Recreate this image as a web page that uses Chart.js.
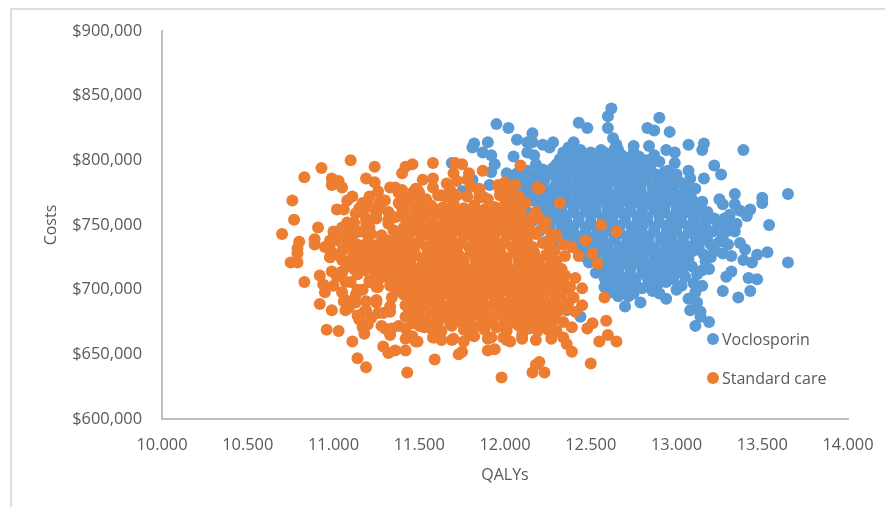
<!DOCTYPE html>
<html>
<head>
<meta charset="utf-8">
<script src="https://cdn.jsdelivr.net/npm/chart.js@4"></script>
<style>
  html, body { margin: 0; background: #fff; }
  #wrap { position: relative; width: 885px; height: 507px; overflow: hidden; }
  #frame { position: absolute; left: 10px; top: 8px; width: 900px; height: 600px; border: 2px solid #dedede; box-sizing: border-box; }
  .key { position: absolute; left: 707px; font: 16px "Open Sans", sans-serif; color: #595959; line-height: 20px; white-space: nowrap; padding-left: 15px; }
  .key i { position: absolute; left: 0; top: 4px; width: 12px; height: 12px; border-radius: 50%; }
</style>
</head>
<body>
<div id="wrap">
  <div id="frame"></div>
  <canvas id="chart" width="885" height="507"></canvas>
  <div class="key" style="top:329px"><i style="background:#5b9bd5"></i>Voclosporin</div>
  <div class="key" style="top:368px"><i style="background:#ed7d31"></i>Standard care</div>
</div>
<script>
const seriesNames = ['Voclosporin', 'Standard care'];
const costTicks = [600000, 650000, 700000, 750000, 800000, 850000, 900000];
const qalyTicks = [10, 10.5, 11, 11.5, 12, 12.5, 13, 13.5, 14];

// [QALYs, costs in $000]
const voclosporinPoints = [
  [12.62,840],[12.60,834],[12.60,825],[12.43,829],[12.48,825],[12.90,833],[12.83,825],[12.87,823],[12.96,822],
  [12.63,817],[12.65,812],[12.64,809],[12.75,811],[12.75,806],[12.76,798],[12.84,811],[12.87,804],[12.83,794],
  [12.94,808],[12.99,806],[12.99,798],[13.07,812],[13.16,813],[13.15,808],[13.39,808],[13.22,796],[13.26,789],
  [13.07,792],[13.16,786],[13.34,774],[13.65,774],[13.50,771],[13.50,767],[13.25,770],[13.27,766],[13.34,766],
  [13.43,762],[13.37,761],[13.41,757],[13.31,758],[13.35,751],[13.31,746],[13.24,752],[13.54,750],[13.65,721],
  [13.53,729],[13.47,727],[13.44,721],[13.42,709],[13.47,708],[13.43,699],[13.36,694],[13.27,699],[13.11,672],
  [13.19,675],[12.70,687],[12.79,690],[13.37,736],[13.40,731],[13.39,723],[13.32,726],[13.27,728],[13.25,737],
  [13.32,714],[13.29,710],[13.19,716],[13.15,703],[13.00,700],[13.11,698],[13.07,693],[13.12,690],[13.08,684],
  [13.14,683],[13.14,679],[12.94,693],[12.86,699],[12.89,704],[12.80,701],[12.72,702],[12.58,702],[12.65,705],
  [11.95,828],[12.02,825],[12.07,816],[12.16,821],[12.13,814],[12.16,814],[11.82,813],[11.81,810],[11.90,814],
  [11.87,806],[11.92,804],[11.94,797],[11.92,791],[11.69,798],[12.13,806],[12.17,804],[12.18,797],[12.01,790],
  [12.07,790],[12.13,792],[11.91,781],[11.81,785],[11.75,776],[11.62,762],[12.28,814],[12.26,810],[12.40,814],
  [12.37,810],[12.05,803],[12.22,812],[12.44,679],[12.36,684],[12.50,806],[12.56,808],[12.46,803],
  [12.34,806],[12.40,805],[12.44,808],[12.52,804],[12.58,806],[12.62,805],[12.68,804],[12.72,802],[12.66,808],[12.78,803],[12.84,800],[12.95,792],[12.30,797],[12.26,792],
  [12.02,785],[12.08,785],[12.12,785],[12.04,778],[12.10,780],[12.14,775],[12.06,770],
  [13.20,735],[13.21,745],[13.22,755],[13.20,725],[13.26,745],[13.28,755],[13.30,735],[13.34,745],[13.30,752],[13.27,741],[13.22,730],[13.17,722],[13.15,715],[13.12,712],[13.10,705],
  [12.62,698],[12.66,695],[12.72,695],[12.90,697],
  [12.32,801],[12.38,800],[12.44,799],[12.51,800],[12.57,802],[12.63,800],[12.69,799],[12.82,800],[12.90,799],
  [12.35,797],[12.41,796],[12.47,797],[12.54,796],[12.60,797],[12.66,796],[12.72,797],[12.78,796],[12.85,797],
  [12.22,793],[12.28,794],[12.34,792],[12.41,793],[12.47,792],[12.53,794],[12.60,792],[12.66,793],[12.72,792],[12.78,790],[12.85,792],[12.93,791],[13.00,789],
  [12.19,789],[12.25,789],[12.31,788],[12.38,789],[12.44,788],[12.50,789],[12.57,788],[12.63,789],[12.69,788],[12.75,789],[12.82,788],[12.88,789],[12.96,788],
  [12.16,785],[12.23,785],[12.30,786],[12.36,784],[12.43,785],[12.50,784],[12.56,786],[12.63,784],[12.69,785],[12.76,784],[12.82,785],[12.89,784],[12.95,785],[13.02,783],[13.08,786],
  [12.16,781],[12.22,781],[12.29,780],[12.35,781],[12.41,780],[12.48,781],[12.54,780],[12.60,781],[12.67,780],[12.73,781],[12.79,780],[12.86,781],[12.92,780],[12.99,781],[13.05,780],
  [12.12,777],[12.19,777],[12.26,776],[12.32,778],[12.39,776],[12.46,777],[12.52,776],[12.59,778],[12.66,776],[12.72,777],[12.79,776],[12.86,778],[12.92,776],[12.98,777],[13.05,776],[13.11,778],
  [12.15,773],[12.22,773],[12.28,772],[12.35,773],[12.42,772],[12.48,773],[12.55,772],[12.62,773],[12.68,772],[12.75,773],[12.81,772],[12.88,773],[12.94,772],[13.01,773],[13.08,772],
  [12.09,769],[12.16,769],[12.23,768],[12.30,770],[12.36,768],[12.43,769],[12.50,768],[12.56,770],[12.63,768],[12.70,769],[12.76,768],[12.83,770],[12.89,768],[12.96,769],[13.03,768],[13.09,770],[13.15,768],
  [12.20,765],[12.26,764],[12.33,765],[12.40,764],[12.46,765],[12.53,764],[12.60,765],[12.66,764],[12.73,765],[12.80,764],[12.86,765],[12.93,764],[13.00,765],[13.06,764],[13.12,765],
  [12.06,761],[12.13,760],[12.20,761],[12.27,760],[12.33,762],[12.40,760],[12.47,761],[12.53,760],[12.60,762],[12.67,760],[12.73,761],[12.80,760],[12.87,762],[12.93,760],[13.00,761],[13.07,760],[13.13,762],[13.18,760],
  [12.23,757],[12.30,756],[12.36,757],[12.43,756],[12.50,757],[12.57,756],[12.63,757],[12.70,756],[12.77,757],[12.83,756],[12.90,757],[12.97,756],[13.03,757],[13.10,756],[13.15,757],
  [12.09,752],[12.16,753],[12.23,752],[12.30,754],[12.36,752],[12.43,753],[12.50,752],[12.57,754],[12.63,752],[12.70,753],[12.77,752],[12.83,754],[12.90,752],[12.97,753],[13.03,752],[13.10,754],[13.17,752],
  [12.26,749],[12.33,748],[12.40,749],[12.47,748],[12.53,749],[12.60,748],[12.67,749],[12.74,748],[12.80,749],[12.87,748],[12.94,749],[13.00,748],[13.07,749],[13.14,748],
  [12.20,745],[12.27,744],[12.34,746],[12.40,744],[12.47,745],[12.54,744],[12.60,746],[12.67,744],[12.74,745],[12.80,744],[12.87,746],[12.94,744],[13.00,745],[13.07,744],[13.13,746],[13.19,744],
  [12.31,741],[12.37,740],[12.44,741],[12.51,740],[12.57,741],[12.64,740],[12.71,741],[12.77,740],[12.84,741],[12.91,740],[12.97,741],[13.04,740],[13.11,741],[13.16,740],
  [12.24,737],[12.31,736],[12.38,738],[12.44,736],[12.51,737],[12.58,736],[12.64,738],[12.71,736],[12.78,737],[12.84,736],[12.91,738],[12.98,736],[13.04,737],[13.11,736],[13.18,738],
  [12.40,733],[12.47,732],[12.54,733],[12.60,732],[12.67,733],[12.74,732],[12.80,733],[12.87,732],[12.94,733],[13.00,732],[13.07,733],[13.13,732],
  [12.43,729],[12.50,728],[12.57,730],[12.63,728],[12.70,729],[12.77,728],[12.83,730],[12.90,728],[12.97,729],[13.03,728],[13.10,730],[13.16,727],
  [12.47,725],[12.53,724],[12.60,725],[12.67,724],[12.73,725],[12.80,724],[12.87,725],[12.93,724],[13.00,725],[13.07,724],
  [12.49,721],[12.56,720],[12.63,722],[12.69,720],[12.76,721],[12.83,720],[12.89,722],[12.96,720],[13.02,721],[13.09,718],
  [12.56,717],[12.60,716],[12.66,717],[12.73,716],[12.80,717],[12.86,716],[12.93,717],[12.99,716],[13.04,717],
  [12.53,713],[12.60,712],[12.66,714],[12.73,712],[12.80,713],[12.86,712],[12.92,714],[12.99,712],[13.05,710],
  [12.58,709],[12.63,708],[12.70,709],[12.76,708],[12.83,709],[12.90,708],[12.96,709],
  [12.60,705],[12.68,698],[12.75,697],[12.84,706],[12.94,706],[12.98,708],[13.03,703],[12.68,704],[12.76,705]
];

const standardPoints = [
  [11.10,800],[10.93,794],[10.83,787],[11.24,795],[11.46,797],[11.42,795],[11.40,790],[11.58,798],[11.71,798],[11.75,797],
  [11.70,790],[11.79,790],[11.87,792],[12.09,796],[10.99,786],[11.03,784],[10.99,781],[11.05,779],[11.19,786],[11.24,783],
  [10.76,769],[10.77,754],[10.70,743],[10.91,748],[10.80,737],[10.79,732],[10.79,728],[10.75,721],[10.79,721],[10.89,739],
  [10.89,735],[10.83,706],[10.92,689],[10.99,684],[10.96,669],[11.03,668],[11.11,660],[11.14,647],[11.19,640],[11.43,636],
  [11.59,646],[11.29,656],[11.32,651],[11.36,653],[11.42,653],[11.73,650],[11.75,652],[11.98,632],[11.90,653],[11.94,654],
  [12.16,636],[12.18,642],[12.20,644],[12.23,636],[12.20,778],[12.32,767],[12.56,750],[12.65,745],[12.47,738],[12.51,728],
  [12.54,720],[12.58,694],[12.59,676],[12.48,670],[12.51,674],[12.60,665],[12.65,660],[12.55,660],[12.34,675],[12.39,671],
  [12.34,663],[12.36,658],[12.39,652],[12.50,643],[12.18,661],[12.19,668],[12.27,743],[12.18,743],[12.34,735],[12.39,733],
  [12.43,726],[12.35,726],[12.35,711],[12.41,709],[12.34,706],[12.45,701],[12.40,694],[12.45,688],[12.41,683],[12.18,760],[12.21,754],
  [11.02,762],[11.06,762],[11.08,769],[11.11,772],[11.00,745],[11.03,739],[11.07,743],[10.98,731],[11.03,727],[10.98,725],
  [11.12,752],[11.17,760],[11.17,767],[11.21,772],[11.26,776],[11.33,779],[11.38,775],[11.48,778],[11.54,770],[11.61,773],
  [11.66,782],[11.72,784],[11.80,780],[11.85,776],[11.96,781],[12.02,778],[11.97,773],[12.08,772],[11.90,770],
  [11.15,763],[11.13,759],[11.08,752],[11.05,748],[11.10,746],[11.19,755],[11.21,748],[11.19,744],[11.29,769],[11.27,763],[11.25,759],[11.32,754],[11.36,756],[11.39,775],[11.46,775],[11.50,775],[11.40,763],[11.49,764],
  [10.98,738],[10.95,733],[10.98,725],[11.02,738],[11.08,733],[11.05,723],[11.11,725],[11.10,741],[11.14,731],[11.14,714],[11.21,723],[11.29,725],[10.99,714],[11.05,713],[10.92,711],[10.94,704],[10.95,698],[11.10,706],[11.14,700],[11.21,706],[11.25,702],[11.30,710],
  [11.07,692],[11.13,690],[11.07,684],[11.18,683],[11.15,677],[11.20,673],[11.25,690],[11.29,682],[11.33,683],[11.18,666],[11.30,670],[11.34,670],[11.33,665],
  [11.43,663],[11.49,660],[11.46,674],[11.53,671],[11.59,663],[11.69,661],[11.80,665],[11.92,663],[12.01,661],[12.10,665],
  [11.36,779],[11.40,777],[11.49,777],[11.58,786],[11.52,785],[11.58,779],[11.63,773],[11.68,777],[11.78,785],[11.85,778],[12.00,783],[12.06,781],[11.97,777],[12.02,772],[11.87,772],[12.19,779],
  [12.30,722],[12.33,716],[12.36,700],[12.31,702],[12.32,684],[12.28,676],[12.25,669],[12.22,674],[12.27,662],[12.30,668],[12.37,690],[12.38,702],[12.22,748],[12.26,738],[12.30,742],[12.24,752],
  [11.43,773],[11.49,772],[11.66,772],[11.72,773],[11.78,772],[11.85,771],[12.02,772],
  [11.22,764],[11.27,768],[11.32,760],[11.38,767],[11.44,768],[11.50,764],[11.57,765],[11.64,764],[11.70,767],[11.76,763],[11.82,765],[11.88,762],[11.94,764],[12.00,766],[12.06,764],[12.12,767],
  [11.30,769],[11.41,762],[11.47,760],[11.54,760],[11.61,761],[11.67,760],[11.73,760],[11.79,760],[11.85,761],[11.91,760],[11.97,761],[12.03,760],[12.09,761],
  [11.13,744],[11.19,752],[11.25,755],[11.32,751],[11.41,756],[11.47,755],[11.53,757],[11.60,758],[11.66,755],[11.72,757],[11.78,755],[11.85,757],[11.91,755],[11.97,757],[12.03,755],[12.09,757],[12.15,755],
  [11.44,751],[11.50,750],[11.57,752],[11.63,750],[11.69,752],[11.75,750],[11.82,752],[11.88,750],[11.94,752],[12.00,750],[12.06,752],[12.12,750],
  [11.16,745],[11.22,743],[11.28,742],[11.35,746],[11.41,748],[11.47,746],[11.54,748],[11.60,746],[11.66,748],[11.72,746],[11.79,748],[11.85,746],[11.91,748],[11.97,746],[12.04,748],[12.10,746],[12.14,749],
  [11.38,742],[11.44,743],[11.51,742],[11.57,743],[11.63,742],[11.69,743],[11.76,742],[11.82,743],[11.88,742],[11.94,743],[12.01,742],[12.07,743],[12.13,742],
  [11.09,736],[11.14,735],[11.20,737],[11.26,735],[11.32,738],[11.38,737],[11.44,739],[11.50,737],[11.57,739],[11.63,737],[11.69,739],[11.75,737],[11.82,739],[11.88,737],[11.94,739],[12.00,737],[12.07,739],[12.13,737],[12.22,736],
  [11.17,733],[11.23,732],[11.29,733],[11.35,732],[11.41,733],[11.47,732],[11.54,733],[11.60,732],[11.66,733],[11.72,732],[11.79,733],[11.85,732],[11.91,733],[11.97,732],[12.04,733],[12.10,732],[12.16,733],[12.26,733],
  [11.05,730],[11.12,727],[11.18,729],[11.24,727],[11.30,729],[11.36,727],[11.42,729],[11.48,727],[11.55,729],[11.61,727],[11.67,729],[11.73,727],[11.80,729],[11.86,727],[11.92,729],[11.98,727],[12.05,729],[11.11,733],[12.11,727],[12.17,729],[12.24,727],[12.29,730],
  [11.15,724],[11.21,723],[11.27,724],[11.33,723],[11.39,724],[11.45,723],[11.52,724],[11.58,723],[11.64,724],[11.70,723],[11.76,724],[11.83,723],[11.89,724],[11.95,723],[12.01,724],[12.08,723],[12.14,724],[12.20,723],[12.27,725],
  [11.09,718],[11.15,721],[11.21,719],[11.27,721],[11.33,719],[11.39,721],[11.45,719],[11.52,721],[11.58,719],[11.64,721],[11.70,719],[11.76,721],[11.83,719],[11.89,721],[11.95,719],[12.01,721],[12.08,719],[12.14,721],[12.20,719],[12.27,721],
  [11.05,714],[11.12,716],[11.18,715],[11.24,714],[11.30,716],[11.36,716],[11.42,715],[11.48,716],[11.55,715],[11.61,716],[11.67,715],[11.73,716],[11.80,715],[11.86,716],[11.92,715],[11.98,716],[12.05,715],[12.11,716],[12.17,715],[12.23,716],[12.30,715],
  [11.02,710],[11.07,706],[11.14,712],[11.21,707],[11.27,709],[11.33,711],[11.39,713],[11.45,711],[11.52,713],[11.58,711],[11.64,713],[11.70,711],[11.76,713],[11.83,711],[11.89,713],[11.95,711],[12.01,713],[12.08,711],[12.14,713],[12.20,711],[12.26,713],[12.30,708],
  [11.36,707],[11.42,708],[11.49,707],[11.55,708],[11.61,707],[11.67,708],[11.73,707],[11.80,708],[11.86,707],[11.92,708],[11.98,707],[12.05,708],[12.11,707],[12.17,708],[12.23,707],
  [11.00,703],[11.05,698],[11.17,700],[11.26,702],[11.33,703],[11.40,704],[11.46,703],[11.52,705],[11.58,703],[11.64,705],[11.70,703],[11.76,705],[11.83,703],[11.89,705],[11.95,703],[12.01,705],[12.08,703],[12.14,705],[12.20,703],[12.27,705],
  [11.37,699],[11.43,700],[11.49,699],[11.55,700],[11.61,699],[11.67,700],[11.73,699],[11.80,700],[11.86,699],[11.92,700],[11.98,699],[12.05,700],[12.11,699],[12.17,700],[12.23,699],[12.31,700],
  [11.06,691],[11.09,686],[11.13,696],[11.19,691],[11.25,692],[11.34,694],[11.41,696],[11.47,695],[11.53,697],[11.59,695],[11.65,697],[11.72,695],[11.78,697],[11.84,695],[11.90,697],[11.96,695],[12.03,697],[12.09,695],[12.15,697],[12.22,695],[12.29,697],[12.33,694],
  [11.44,691],[11.50,690],[11.56,691],[11.62,690],[11.69,691],[11.75,690],[11.81,691],[11.87,690],[11.94,691],[12.00,690],[12.06,691],[12.13,690],[12.19,691],[12.26,690],[12.32,691],
  [11.14,680],[11.19,684],[11.26,682],[11.33,687],[11.42,688],[11.48,686],[11.54,688],[11.60,686],[11.67,688],[11.73,686],[11.79,688],[11.85,686],[11.92,688],[11.98,686],[12.04,688],[12.10,686],[12.17,688],[12.24,686],[12.30,688],[12.35,685],
  [11.44,683],[11.50,682],[11.57,683],[11.63,682],[11.69,683],[11.76,682],[11.82,683],[11.88,682],[11.95,683],[12.01,682],[12.07,683],[12.14,682],[12.20,683],[12.27,682],
  [11.17,671],[11.22,678],[11.28,672],[11.33,668],[11.38,672],[11.42,679],[11.47,680],[11.53,678],[11.60,680],[11.66,679],[11.72,680],[11.79,678],[11.85,680],[11.91,678],[11.98,680],[12.04,678],[12.10,680],[12.17,678],[12.24,680],[12.29,679],
  [11.49,675],[11.55,674],[11.61,675],[11.68,674],[11.74,675],[11.80,674],[11.87,675],[11.93,674],[12.00,675],[12.06,674],[12.12,675],[12.19,674],
  [11.42,670],[11.46,664],[11.50,672],[11.57,670],[11.63,668],[11.69,672],[11.76,669],[11.82,671],[11.88,669],[11.95,671],[12.01,668],[12.08,672],[12.14,670],
  [11.42,662],[11.48,660],[11.58,663],[11.63,661],[11.70,662],[11.76,660],[11.82,664],[11.90,662],[11.99,663],[12.03,660],[12.10,662]
];

const chart = new Chart(document.getElementById('chart'), {
  type: 'scatter',
  data: {
    datasets: [
      // costs are listed in thousands
      { label: seriesNames[0], data: voclosporinPoints.map(p => ({ x: p[0], y: p[1] * 1000 })), backgroundColor: '#5b9bd5', borderColor: '#5b9bd5', order: 2 },
      { label: seriesNames[1], data: standardPoints.map(p => ({ x: p[0], y: p[1] * 1000 })), backgroundColor: '#ed7d31', borderColor: '#ed7d31', order: 1 },
    ],
  },
  options: {
    responsive: false,
    animation: false,
    layout: { padding: { top: 31, right: 37, bottom: 0, left: 0 } },
    elements: { point: { radius: 6, borderWidth: 0 } },
    plugins: { legend: { display: false }, tooltip: { enabled: false } },
    scales: {
      x: {
        type: 'linear',
        min: 10,
        max: 14,
        afterBuildTicks: axis => { axis.ticks = qalyTicks.map(value => ({ value })); },
        afterFit: axis => { axis.height = 88; },
        grid: { display: false },
        border: { color: '#bfbfbf', width: 2 },
        ticks: {
          padding: 8,
          color: '#595959',
          font: { family: 'Open Sans', size: 16.4 },
          maxRotation: 0,
          callback: value => value.toFixed(3),
        },
        title: { display: true, text: 'QALYs', color: '#595959', font: { family: 'Open Sans', size: 16 }, padding: { top: 0, bottom: 22 } },
      },
      y: {
        type: 'linear',
        min: 600000,
        max: 900000,
        afterBuildTicks: axis => { axis.ticks = costTicks.map(value => ({ value })); },
        afterFit: axis => { axis.width = 162; },
        grid: { display: false },
        border: { color: '#bfbfbf', width: 2 },
        ticks: {
          padding: 12,
          color: '#595959',
          font: { family: 'Open Sans', size: 16.4 },
          callback: value => '$' + value.toLocaleString('en-US'),
        },
        title: { display: true, text: 'Costs', color: '#595959', font: { family: 'Open Sans', size: 16 }, padding: { top: 42, bottom: 0 } },
      },
    },
  },
});
</script>
</body>
</html>
